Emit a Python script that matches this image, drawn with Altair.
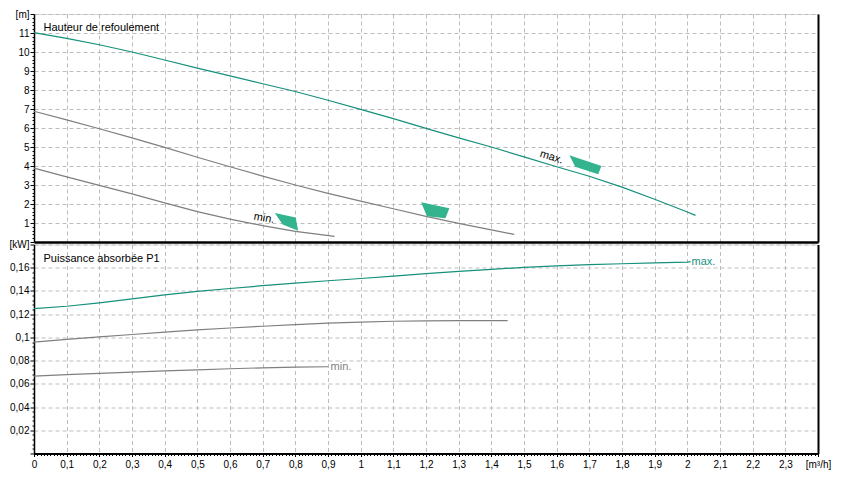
import altair as alt
import pandas as pd

# ---------------- data ----------------
# Head (Hauteur de refoulement), m, vs flow Q in m3/h
q_h_max = [0, 0.1, 0.2, 0.3, 0.4, 0.5, 0.6, 0.7, 0.8, 0.9, 1.0, 1.1, 1.2, 1.3, 1.4, 1.5, 1.6, 1.7, 1.8, 1.9, 2.0, 2.025]
h_max = [11.02, 10.72, 10.38, 10.0, 9.58, 9.15, 8.74, 8.33, 7.92, 7.46, 6.98, 6.49, 5.98, 5.48, 5.0, 4.48, 3.96, 3.46, 2.89, 2.25, 1.58, 1.40]
q_h_mid = [0, 0.1, 0.2, 0.3, 0.4, 0.5, 0.6, 0.7, 0.8, 0.9, 1.0, 1.1, 1.2, 1.3, 1.4, 1.47]
h_mid = [6.88, 6.43, 5.96, 5.48, 4.98, 4.46, 3.96, 3.47, 3.0, 2.56, 2.15, 1.75, 1.35, 0.98, 0.64, 0.40]
q_h_min = [0, 0.1, 0.2, 0.3, 0.4, 0.5, 0.6, 0.7, 0.8, 0.92]
h_min = [3.89, 3.43, 2.98, 2.53, 2.06, 1.60, 1.20, 0.86, 0.56, 0.30]

# Power (Puissance absorbée P1), kW
q_p_max = [0, 0.1, 0.2, 0.3, 0.4, 0.5, 0.6, 0.7, 0.8, 0.9, 1.0, 1.1, 1.2, 1.3, 1.4, 1.5, 1.6, 1.7, 1.8, 1.9, 2.0, 2.01]
p_max = [0.1247, 0.1268, 0.1298, 0.1331, 0.1366, 0.1397, 0.1421, 0.1445, 0.1468, 0.1488, 0.1507, 0.1528, 0.1549,
         0.1568, 0.1586, 0.1603, 0.1616, 0.1626, 0.1634, 0.1641, 0.1648, 0.1652]
q_p_mid = [0, 0.1, 0.2, 0.3, 0.4, 0.5, 0.6, 0.7, 0.8, 0.9, 1.0, 1.1, 1.2, 1.3, 1.4, 1.45]
p_mid = [0.0960, 0.0983, 0.1004, 0.1025, 0.1046, 0.1065, 0.1081, 0.1096, 0.1110, 0.1122, 0.1132, 0.1139, 0.1143,
         0.1145, 0.1145, 0.1145]
q_p_min = [0, 0.1, 0.2, 0.3, 0.4, 0.5, 0.6, 0.7, 0.8, 0.9]
p_min = [0.0667, 0.0679, 0.0690, 0.0701, 0.0712, 0.0721, 0.0730, 0.0738, 0.0744, 0.0747]

# operating-point symbols on the head curves
mark_q = [1.688, 1.227, 0.774]
mark_h = [4.04, 1.64, 1.09]
mark_kind = ["max", "mid", "min"]

# curve labels
top_lbl_q = [1.584, 0.704]
top_lbl_h = [4.46, 1.25]
top_lbl_t = ["max.", "min."]
bot_lbl_q = [2.013, 0.908]
bot_lbl_p = [0.165, 0.0744]
bot_lbl_t = ["max.", "min."]
bot_lbl_s = ["max", "min"]

panel_titles = ["Hauteur de refoulement", "Puissance absorbée P1"]

x_ticks = [round(i * 0.01, 2) for i in range(241)]
yh_ticks = [round(i * 0.2, 1) for i in range(61)]
yp_ticks = [round(i * 0.004, 3) for i in range(46)]

# ---------------- styling ----------------
TEAL = "#15907b"
GREY = "#7f7f7f"
FILL = "#34b48e"
GRID = "#bdbdbd"
FONT = "Liberation Sans"
W, HT, HB = 784, 228, 209

series_dom = ["max", "mid", "min"]
series_rng = [TEAL, GREY, GREY]


def long(qs, vs, name):
    return pd.DataFrame({"Q": qs, "V": vs, "s": name})


df_h = pd.concat([long(q_h_max, h_max, "max"), long(q_h_mid, h_mid, "mid"), long(q_h_min, h_min, "min")])
df_p = pd.concat([long(q_p_max, p_max, "max"), long(q_p_mid, p_mid, "mid"), long(q_p_min, p_min, "min")])
df_m = pd.DataFrame({"Q": mark_q, "V": mark_h, "k": mark_kind})
df_tl = pd.DataFrame({"Q": top_lbl_q, "V": top_lbl_h, "t": top_lbl_t})
df_bl = pd.DataFrame({"Q": bot_lbl_q, "V": bot_lbl_p, "t": bot_lbl_t, "s": bot_lbl_s})

xmaj = "abs(datum.value*10 - round(datum.value*10)) < 0.001"
xscale = alt.Scale(domain=[0, 2.4], nice=False, zero=False)

x_top = alt.X("Q:Q", scale=xscale, axis=alt.Axis(
    values=[round(i * 0.1, 1) for i in range(25)], labels=False, ticks=False, title=None,
    grid=True, gridColor=GRID, gridDash=[4, 3], domainColor="black", domainWidth=2.5))

x_bot = alt.X("Q:Q", scale=xscale, axis=alt.Axis(
    values=x_ticks, title=None, labelOverlap=False, labelFlush=False,
    labelExpr="(" + xmaj + ") ? (datum.value > 2.35 ? '[m³/h]' : replace(format(datum.value, '.1~f'), '.', ',')) : ''",
    labelPadding=3,
    tickSize={"condition": {"test": xmaj, "value": 3}, "value": 2}, tickColor="black",
    grid=True, gridColor=GRID, gridDash=[4, 3],
    gridOpacity={"condition": {"test": xmaj, "value": 1}, "value": 0},
    domainColor="black", domainWidth=2))

hmaj = "abs(datum.value - round(datum.value)) < 0.001"
hscale = alt.Scale(domain=[0, 12], nice=False, zero=False)
y_h = alt.Y("V:Q", scale=hscale, axis=alt.Axis(
    values=yh_ticks, title=None, labelOverlap=False, labelPadding=1,
    labelExpr="(" + hmaj + ") && datum.value > 0 ? (datum.value > 11.9 ? '[m]' : format(datum.value, 'd')) : ''",
    tickSize={"condition": {"test": hmaj, "value": 4}, "value": 2}, tickColor="black",
    grid=True, gridColor=GRID, gridDash=[4, 3],
    gridOpacity={"condition": {"test": hmaj + " && datum.value > 0", "value": 1}, "value": 0},
    domainColor="black", domainWidth=1.5))
y_h_noaxis = alt.Y("V:Q", scale=hscale, axis=None)
y_h_right = alt.Y("V:Q", scale=hscale, axis=alt.Axis(
    orient="right", labels=False, ticks=False, grid=False, title=None,
    domainColor="black", domainWidth=2))

pmaj = "abs(datum.value/0.02 - round(datum.value/0.02)) < 0.001"
pscale = alt.Scale(domain=[0, 0.18], nice=False, zero=False)
y_p = alt.Y("V:Q", scale=pscale, axis=alt.Axis(
    values=yp_ticks, title=None, labelOverlap=False, labelPadding=1,
    labelExpr="(" + pmaj + ") && datum.value > 0.001 ? (datum.value > 0.175 ? '[kW]' : replace(format(datum.value, '.2~f'), '.', ',')) : ''",
    tickSize={"condition": {"test": pmaj, "value": 4}, "value": 2}, tickColor="black",
    grid=True, gridColor=GRID, gridDash=[4, 3],
    gridOpacity={"condition": {"test": pmaj + " && datum.value > 0.001", "value": 1}, "value": 0},
    domainColor="black", domainWidth=1.5))
y_p_right = alt.Y("V:Q", scale=pscale, axis=alt.Axis(
    orient="right", labels=False, ticks=False, grid=False, title=None,
    domainColor="black", domainWidth=2))

color = alt.Color("s:N", scale=alt.Scale(domain=series_dom, range=series_rng), legend=None)

# ---------------- top panel ----------------
top_lines = alt.Chart(df_h).mark_line(strokeWidth=1.2).encode(x=x_top, y=y_h, color=color, detail="s:N")
top_marks = alt.Chart(df_m).mark_point(filled=True, opacity=1, strokeWidth=0, fill=FILL).encode(
    x=x_top, y=y_h_right,
    shape=alt.Shape("k:N", scale=alt.Scale(domain=mark_kind, range=[
        "M-1,-0.62L1,0.04L0.8,0.56L-0.64,0.1Z",
        "M-0.97,-0.6L1.03,-0.18L0.75,0.52L-0.56,0.38Z",
        "M-1,-0.7L0.74,-0.32L0.94,0.79L-0.35,0.27Z"]), legend=None),
    size=alt.Size("k:N", scale=alt.Scale(domain=mark_kind, range=[1024, 576, 289]), legend=None))
top_max_lbl = alt.Chart(df_tl[df_tl.t == "max."]).mark_text(
    font=FONT, fontSize=11, color="black", angle=18, align="center", baseline="middle").encode(
    x=x_top, y=y_h_noaxis, text="t:N")
top_min_lbl = alt.Chart(df_tl[df_tl.t == "min."]).mark_text(
    font=FONT, fontSize=11, color="black", angle=10, align="center", baseline="middle").encode(
    x=x_top, y=y_h_noaxis, text="t:N")
top_title = alt.Chart(pd.DataFrame({"t": [panel_titles[0]]})).mark_text(
    font=FONT, fontSize=11, color="black", align="left", baseline="middle").encode(
    x=alt.value(9.5), y=alt.value(13.5), text="t:N")

top = alt.layer(top_lines, top_marks, top_max_lbl, top_min_lbl, top_title).resolve_axis(
    y="independent").properties(width=W, height=HT)

# ---------------- bottom panel ----------------
bot_lines = alt.Chart(df_p).mark_line(strokeWidth=1.2).encode(x=x_bot, y=y_p, color=color, detail="s:N")
bot_lbls = alt.Chart(df_bl).mark_text(font=FONT, fontSize=11, align="left", baseline="middle").encode(
    x=x_bot, y=y_p_right, text="t:N", color=color)
bot_title = alt.Chart(pd.DataFrame({"t": [panel_titles[1]]})).mark_text(
    font=FONT, fontSize=11, color="black", align="left", baseline="middle").encode(
    x=alt.value(9.5), y=alt.value(14), text="t:N")

bottom = alt.layer(bot_lines, bot_lbls, bot_title).resolve_axis(y="independent").properties(width=W, height=HB)

chart = alt.vconcat(top, bottom, spacing=2.5, bounds="flush").properties(
    padding={"left": 0, "top": 0, "right": 0, "bottom": 0}
).configure_view(stroke=None).configure_axis(
    labelFont=FONT, labelFontSize=11, labelColor="black"
).configure(background="white")

chart.save("out.html", embed_options={"renderer": "svg", "actions": False})
